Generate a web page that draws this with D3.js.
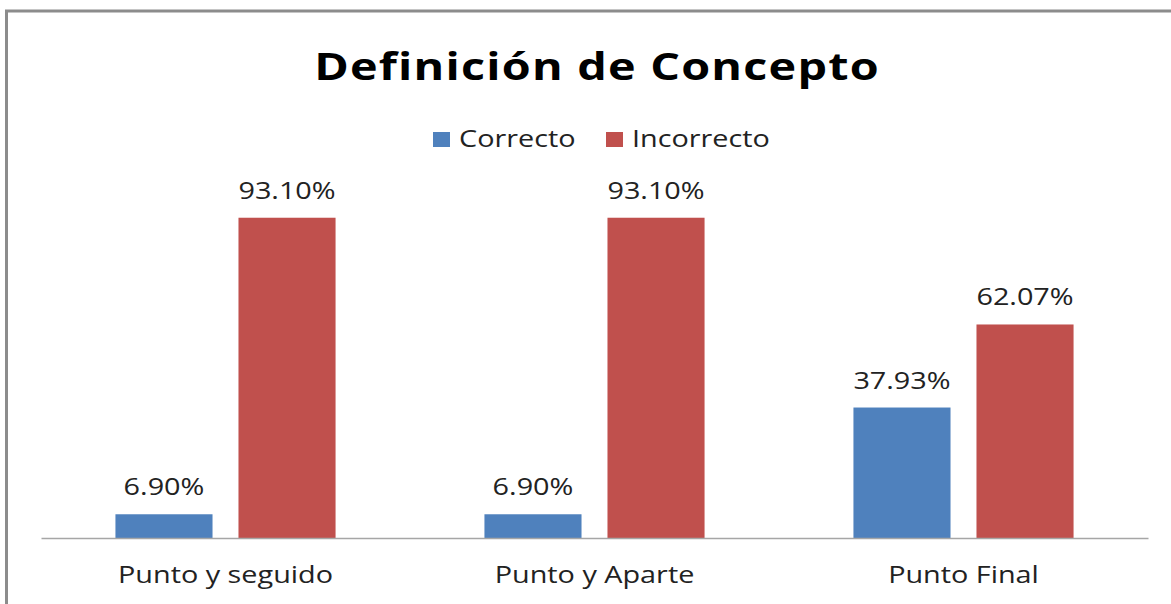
<!DOCTYPE html>
<html>
<head>
<meta charset="utf-8">
<script src="https://cdn.jsdelivr.net/npm/d3@7"></script>
<style>
  body { margin: 0; background: #fff; }
  text { font-family: "Open Sans", "Noto Sans", sans-serif; fill: #222; }
</style>
</head>
<body>
<script>
// data
var categories = ["Punto y seguido", "Punto y Aparte", "Punto Final"];
var seriesNames = ["Correcto", "Incorrecto"];
var correcto = [6.90, 6.90, 37.93];
var incorrecto = [93.10, 93.10, 62.07];
var colors = ["#4F81BD", "#C0504D"];

var w = 1171,
    h = 604,
    stretch = 1.2; // the original text is a bit wide

var svg = d3.select("body").append("svg")
    .attr("width", w)
    .attr("height", h);

// chart frame
svg.append("rect")
   .attr("x", 6.5).attr("y", 11)
   .attr("width", w + 20).attr("height", h + 20)
   .attr("fill", "none")
   .attr("stroke", "#8c8c8c")
   .attr("stroke-width", 3);

// scales
var x0 = d3.scaleBand()
    .domain(categories)
    .range([41, 1148]);

var x1 = d3.scaleBand()
    .domain(seriesNames)
    .range([0, x0.bandwidth()])
    .paddingInner(0.211)
    .paddingOuter(0.605);

var y = d3.scaleLinear()
    .domain([0, 100])
    .range([538, 194]);

var rows = categories.map(function(c, i) {
    return {cat: c, vals: [correcto[i], incorrecto[i]]};
});

function stretchedText(sel, px, py, sx) {
    return sel.attr("transform", "translate(" + px + "," + py + ") scale(" + (sx || stretch) + ",1)")
              .attr("text-anchor", "middle");
}

// bars
var groups = svg.selectAll(".group")
    .data(rows)
    .enter().append("g")
    .attr("class", "group")
    .attr("transform", function(d) { return "translate(" + x0(d.cat) + ",0)"; });

groups.selectAll("rect")
    .data(function(d) { return d.vals.map(function(v, i) { return {s: seriesNames[i], v: v, i: i}; }); })
    .enter().append("rect")
    .attr("x", function(d) { return x1(d.s); })
    .attr("y", function(d) { return y(d.v); })
    .attr("width", x1.bandwidth())
    .attr("height", function(d) { return y(0) - y(d.v); })
    .attr("fill", function(d) { return colors[d.i]; });

// value labels
groups.selectAll(".val")
    .data(function(d) { return d.vals.map(function(v, i) { return {s: seriesNames[i], v: v}; }); })
    .enter().append("text")
    .attr("class", "val")
    .style("font-size", "24px")
    .text(function(d) { return d.v.toFixed(2) + "%"; })
    .each(function(d) {
        stretchedText(d3.select(this), x1(d.s) + x1.bandwidth() / 2, y(d.v) - 19);
    });

// x axis
var xAxis = svg.append("g")
    .attr("transform", "translate(0," + y(0) + ")")
    .call(d3.axisBottom(x0).tickSize(0).tickFormat(""));
xAxis.select(".domain").attr("stroke", "#a6a6a6").attr("stroke-width", 1.5);

svg.selectAll(".cat")
    .data(categories)
    .enter().append("text")
    .attr("class", "cat")
    .style("font-size", "24px")
    .text(function(d) { return d; })
    .each(function(d) {
        stretchedText(d3.select(this), x0(d) + x0.bandwidth() / 2, 583);
    });

// title
stretchedText(svg.append("text"), 597, 80, 1.23)
    .style("font-size", "38px")
    .style("font-weight", "bold")
    .style("letter-spacing", "1px")
    .style("fill", "#000")
    .text("Definición de Concepto");

// legend
var legendX = [433, 606];
var legend = svg.selectAll(".legend")
    .data(seriesNames)
    .enter().append("g")
    .attr("class", "legend")
    .attr("transform", function(d, i) { return "translate(" + legendX[i] + ",0)"; });

legend.append("rect")
    .attr("x", 0).attr("y", 132)
    .attr("width", 17).attr("height", 15)
    .attr("fill", function(d, i) { return colors[i]; });

legend.append("text")
    .style("font-size", "24px")
    .attr("transform", "translate(26,147) scale(" + stretch + ",1)")
    .text(function(d) { return d; });
</script>
</body>
</html>
